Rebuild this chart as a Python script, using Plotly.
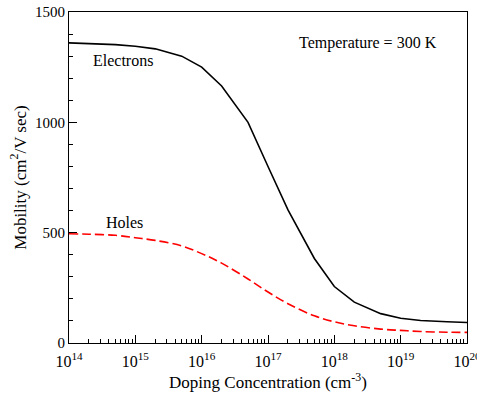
import plotly.graph_objects as go

doping = [1e14, 2e14, 5e14, 1e15, 2e15, 5e15, 1e16, 2e16, 5e16, 1e17, 2e17, 5e17,
          1e18, 2e18, 5e18, 1e19, 2e19, 5e19, 1e20]
electrons = [1360, 1358, 1352, 1345, 1333, 1300, 1250, 1165, 1000, 800, 603, 383,
             256, 185, 133, 112, 102, 96, 93]
holes = [495, 493, 488, 477, 465, 440, 405, 362, 290, 231, 178, 123,
         96, 78, 63, 57, 52, 49, 48]

x_range_log = [14, 20]
xtick_vals = [1e14, 1e15, 1e16, 1e17, 1e18, 1e19, 1e20]
xtick_text = ["10<sup>14</sup>", "10<sup>15</sup>", "10<sup>16</sup>", "10<sup>17</sup>",
              "10<sup>18</sup>", "10<sup>19</sup>", "10<sup>20</sup>"]
xminor_vals = [float(m) * 10.0 ** e for e in range(14, 20) for m in range(2, 10)]
y_range = [0, 1500]
ytick_vals = [0, 500, 1000, 1500]

FONT = "Liberation Serif"

fig = go.Figure()
fig.add_trace(go.Scatter(x=doping, y=electrons, mode="lines",
                         line=dict(color="black", width=1.6), name="Electrons"))
fig.add_trace(go.Scatter(x=doping, y=holes, mode="lines", line_shape="spline",
                         line=dict(color="#ff0000", width=1.6, dash="9px,4px"), name="Holes"))
# invisible carrier trace so the minor-tick overlay axis is drawn
fig.add_trace(go.Scatter(x=doping, y=holes, xaxis="x2", mode="lines", opacity=0,
                         line=dict(width=0), hoverinfo="skip", showlegend=False))

fig.update_layout(
    width=477, height=396,
    margin=dict(l=69, r=10, t=12, b=53),
    paper_bgcolor="white", plot_bgcolor="white",
    showlegend=False,
    font=dict(family=FONT, size=15, color="black"),
    xaxis=dict(type="log", range=x_range_log, tickvals=xtick_vals, ticktext=xtick_text,
               ticks="inside", ticklen=8, tickwidth=1.2, tickcolor="#000000",
               layer="above traces",
               showline=True, linecolor="black", linewidth=1, mirror=True,
               showgrid=False, zeroline=False, ticklabeloverflow="allow",
               ticklabelstandoff=4, automargin=False,
               tickfont=dict(family=FONT, size=16),
               title=dict(text="Doping Concentration (cm<sup>-3</sup>)",
                          font=dict(family=FONT, size=17), standoff=4)),
    xaxis2=dict(type="log", range=x_range_log, overlaying="x", anchor="y", side="bottom",
                tickmode="array", tickvals=xminor_vals, ticks="inside", ticklen=4,
                tickwidth=1.2, tickcolor="#000000", showticklabels=False, showline=False,
                layer="above traces",
                showgrid=False, zeroline=False, automargin=False),
    yaxis=dict(range=y_range, tickvals=ytick_vals, automargin=False,
               ticks="inside", ticklen=8, tickwidth=1.2, tickcolor="#000000",
               layer="above traces",
               showline=True, linecolor="black", linewidth=1, mirror=True,
               showgrid=False, zeroline=False,
               tickfont=dict(family=FONT, size=15),
               minor=dict(dtick=100, ticks="inside", ticklen=4, tickcolor="#000000",
                          tickwidth=1.2, showgrid=False),
               title=dict(text="Mobility (cm<sup>2</sup>/V sec)",
                          font=dict(family=FONT, size=17), standoff=4)),
)

fig.add_annotation(x=14.81, y=1282, xref="x", yref="y", text="Electrons", showarrow=False,
                   xanchor="center", yanchor="middle", font=dict(family=FONT, size=16))
fig.add_annotation(x=14.84, y=544, xref="x", yref="y", text="Holes", showarrow=False,
                   xanchor="center", yanchor="middle", font=dict(family=FONT, size=16))
fig.add_annotation(x=18.51, y=1359, xref="x", yref="y", text="Temperature = 300 K",
                   showarrow=False, xanchor="center", yanchor="middle",
                   font=dict(family=FONT, size=16))

fig.write_html("out.html")
